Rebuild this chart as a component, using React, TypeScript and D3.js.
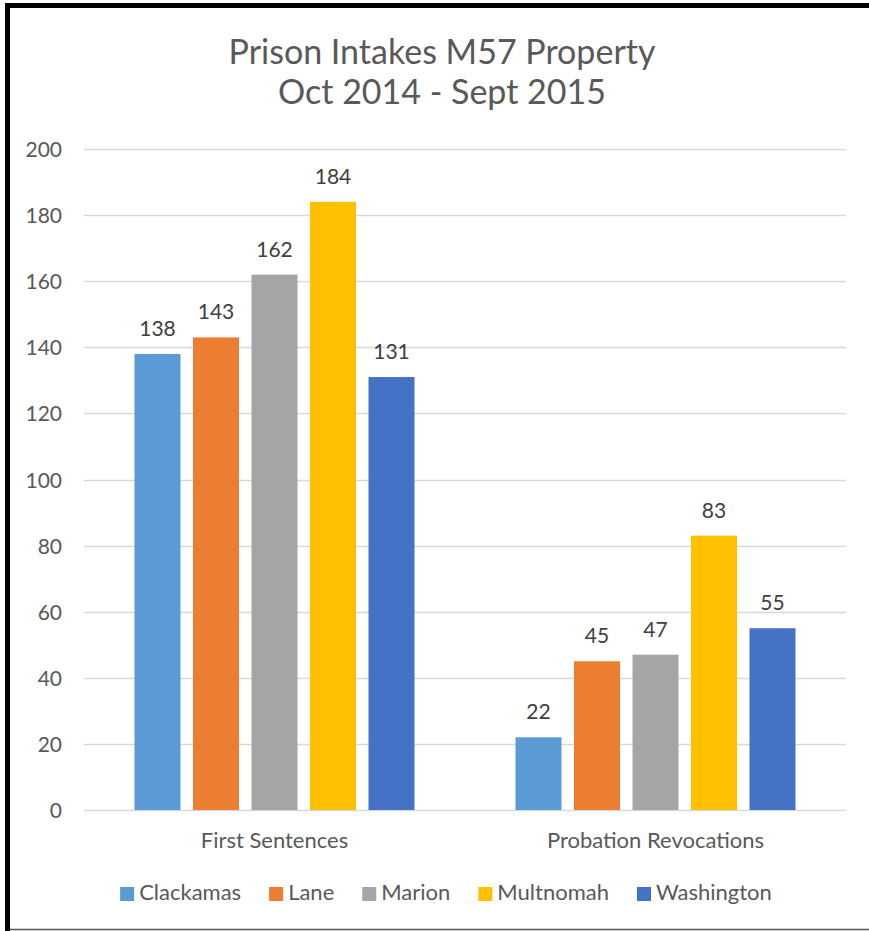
import React, { useEffect, useRef } from "react";
import * as d3 from "d3";

const categories = ["First Sentences", "Probation Revocations"];
const seriesNames = ["Clackamas", "Lane", "Marion", "Multnomah", "Washington"];
const clackamas = [138, 22];
const lane = [143, 45];
const marion = [162, 47];
const multnomah = [184, 83];
const washington = [131, 55];
const seriesValues = [clackamas, lane, marion, multnomah, washington];
const seriesColors = ["#5B9BD5", "#ED7D31", "#A5A5A5", "#FFC000", "#4472C4"];
const yTicks = [0, 20, 40, 60, 80, 100, 120, 140, 160, 180, 200];
const titleLines = ["Prison Intakes M57 Property", "Oct 2014 - Sept 2015"];

const W = 869;
const H = 931;
const FONT = "Lato, 'Open Sans', sans-serif";

export default function App() {
  const ref = useRef<SVGSVGElement>(null);

  useEffect(() => {
    const svg = d3.select(ref.current);
    svg.selectAll("*").remove();

    const plot = { left: 84, right: 846, top: 149, bottom: 810 };

    // frame (top, left and bottom edges only)
    svg.append("rect").attr("x", 0).attr("y", 0).attr("width", W).attr("height", H).attr("fill", "#fff");
    svg.append("line").attr("x1", 5).attr("x2", W).attr("y1", 929.5).attr("y2", 929.5)
      .attr("stroke", "#555").attr("stroke-width", 1.5);
    svg.append("line").attr("x1", 5).attr("x2", W).attr("y1", 5.5).attr("y2", 5.5)
      .attr("stroke", "#000").attr("stroke-width", 5);
    svg.append("line").attr("x1", 7.5).attr("x2", 7.5).attr("y1", 3).attr("y2", 931)
      .attr("stroke", "#000").attr("stroke-width", 5);

    // title
    const title = svg.append("text").attr("text-anchor", "middle").attr("fill", "#595959")
      .style("font-family", FONT).style("font-size", "34px");
    titleLines.forEach((t, i) => {
      title.append("tspan").attr("x", 442).attr("y", 64 + i * 40).text(t);
    });

    const y = d3.scaleLinear().domain([0, 200]).range([plot.bottom, plot.top]);
    const x0 = d3.scaleBand<string>().domain(categories).range([plot.left, plot.right]).padding(0);
    const groupW = 292.5;
    const x1 = d3.scaleBand<string>().domain(seriesNames)
      .range([x0.bandwidth() / 2 - groupW / 2, x0.bandwidth() / 2 + groupW / 2])
      .paddingInner(0.2137).paddingOuter(0.2137 / 2);

    // gridlines
    svg.append("g").selectAll("line").data(yTicks).join("line")
      .attr("x1", plot.left).attr("x2", plot.right)
      .attr("y1", (d) => Math.round(y(d)) + 0.5).attr("y2", (d) => Math.round(y(d)) + 0.5)
      .attr("stroke", "#D9D9D9").attr("stroke-width", 1.5);

    // y labels
    svg.append("g").selectAll("text").data(yTicks).join("text")
      .attr("x", 62).attr("y", (d) => y(d) + 8).attr("text-anchor", "end")
      .attr("fill", "#595959").style("font-family", FONT).style("font-size", "21px")
      .text((d) => String(d));

    // bars
    const groups = svg.append("g").selectAll("g").data(categories).join("g")
      .attr("transform", (c) => `translate(${x0(c)},0)`);
    groups.each(function (c, ci) {
      const g = d3.select(this);
      const data = seriesNames.map((s, si) => ({ s, v: seriesValues[si][ci], color: seriesColors[si] }));
      g.selectAll("rect").data(data).join("rect")
        .attr("x", (d) => x1(d.s)!).attr("width", x1.bandwidth())
        .attr("y", (d) => y(d.v)).attr("height", (d) => y(0) - y(d.v))
        .attr("fill", (d) => d.color);
      g.selectAll("text").data(data).join("text")
        .attr("x", (d) => x1(d.s)! + x1.bandwidth() / 2).attr("y", (d) => y(d.v) - 18)
        .attr("text-anchor", "middle").attr("fill", "#404040")
        .style("font-family", FONT).style("font-size", "21px")
        .text((d) => String(d.v));
    });

    // category labels
    svg.append("g").selectAll("text").data(categories).join("text")
      .attr("x", (c) => x0(c)! + x0.bandwidth() / 2).attr("y", 848)
      .attr("text-anchor", "middle").attr("fill", "#595959")
      .style("font-family", FONT).style("font-size", "22px").text((c) => c);

    // legend
    const legend = svg.append("g");
    const items = legend.selectAll("g").data(seriesNames).join("g");
    items.append("rect").attr("width", 14).attr("height", 14).attr("y", 887)
      .attr("fill", (_d, i) => seriesColors[i]);
    const texts = items.append("text").attr("y", 900).attr("fill", "#595959")
      .style("font-family", FONT).style("font-size", "22px").text((d) => d);
    const widths: number[] = [];
    texts.each(function () { widths.push((this as SVGTextElement).getComputedTextLength()); });
    const sq = 14, gapT = 5, gapI = 28;
    const total = widths.reduce((a, w) => a + sq + gapT + w, 0) + gapI * (widths.length - 1);
    let cx = 446 - total / 2;
    items.each(function (_d, i) {
      const g = d3.select(this);
      g.select("rect").attr("x", cx);
      g.select("text").attr("x", cx + sq + gapT);
      cx += sq + gapT + widths[i] + gapI;
    });
  }, []);

  return (
    <svg ref={ref} width={W} height={H}
      style={{ position: "absolute", left: 0, top: 0, display: "block", overflow: "hidden" }} />
  );
}
